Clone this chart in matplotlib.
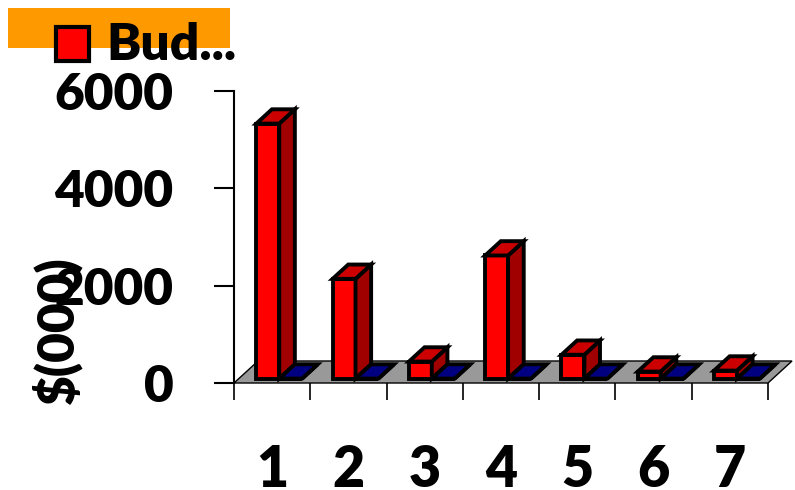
import matplotlib
matplotlib.use("Agg")
import matplotlib.pyplot as plt
from matplotlib.patches import Polygon, Rectangle

plt.rcParams['font.family'] = ['Lato', 'DejaVu Sans']
plt.rcParams['font.weight'] = 'heavy'

# data
categories = ['1', '2', '3', '4', '5', '6', '7']
budget = [5240, 2050, 350, 2530, 490, 145, 165]
actual = [0, 0, 0, 0, 0, 0, 0]
yticks = [0, 2000, 4000, 6000]
legend_label = 'Bud...'
ylabel = '$(000)'

# 3d look: depth vector of the floor (x in category units, y in value units)
DX, DY = 0.315, 452
D0, D1 = 0.2, 0.85
W = 0.30
OFF = 0.23

fig = plt.figure(figsize=(7.95, 4.9), dpi=100)
ax = fig.add_axes([234 / 795, 107 / 490, 534 / 795, 292 / 490])
ax.set_xlim(0, 7)
ax.set_ylim(0, 6000)
ax.patch.set_visible(False)
for s in ['top', 'right', 'bottom']:
    ax.spines[s].set_visible(False)
ax.spines['left'].set_linewidth(1.5)

# floor
n = len(categories)
floor = Polygon([(0, 0), (n, 0), (n + DX, DY), (DX, DY)], closed=True,
                facecolor='#999999', edgecolor='black', lw=1, clip_on=False, zorder=1)
ax.add_patch(floor)


def bar3d(x0, h, front, side, top):
    fx, fy = x0 + D0 * DX, D0 * DY
    bx, by = x0 + D1 * DX, D1 * DY
    faces = [
        ([(fx, fy), (fx + W, fy), (fx + W, fy + h), (fx, fy + h)], front),
        ([(fx + W, fy), (bx + W, by), (bx + W, by + h), (fx + W, fy + h)], side),
        ([(fx, fy + h), (fx + W, fy + h), (bx + W, by + h), (bx, by + h)], top),
    ]
    for pts, c in faces:
        ax.add_patch(Polygon(pts, closed=True, facecolor=c, edgecolor='black',
                             lw=2.8, joinstyle='miter', clip_on=False, zorder=3))


for i in range(n):
    bar3d(i + OFF, budget[i], '#FF0000', '#A00000', '#CC0000')
    bar3d(i + OFF + W, actual[i], '#000080', '#000050', '#000080')

# axes ticks
ax.set_yticks(yticks)
ax.set_yticklabels([str(v) for v in yticks], fontsize=37, fontweight='heavy')
ax.tick_params(axis='y', length=14.5, width=1.5, pad=29)
ax.set_xticks(range(n + 1))
ax.set_xticklabels([])
ax.set_xticks([i + 0.5 for i in range(n)], minor=True)
ax.set_xticklabels(categories, minor=True, fontsize=40, fontweight='heavy')
ax.tick_params(axis='x', which='major', length=12, width=1.2)
ax.tick_params(axis='x', which='minor', length=0, pad=44)

fig.text(57 / 795, 1 - 330 / 490, ylabel, rotation=90, fontsize=37,
         fontweight='heavy', ha='center', va='center')

# legend
fig.add_artist(Rectangle((8 / 795, 1 - 48 / 490), 222 / 795, 40 / 490,
                         transform=fig.transFigure, facecolor='#FF9900', edgecolor='none'))
fig.add_artist(Rectangle((56 / 795, 1 - 61 / 490), 33 / 795, 34 / 490,
                         transform=fig.transFigure, facecolor='#FF0000',
                         edgecolor='black', lw=3))
fig.text(106 / 795, 1 - 60 / 490, legend_label, fontsize=37, fontweight='heavy',
         ha='left', va='baseline')

fig.savefig('out.png', dpi=100)
